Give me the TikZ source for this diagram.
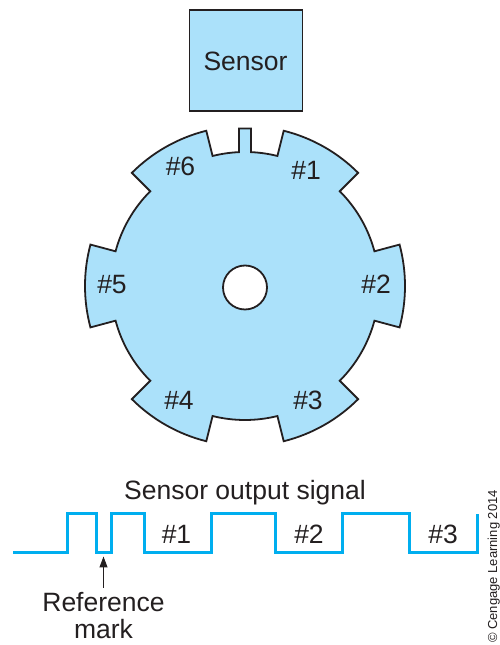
\documentclass[tikz,border=0pt]{standalone}
\usepackage{fontspec}
\setmainfont{Liberation Sans}
\usetikzlibrary{arrows.meta}
\definecolor{partfill}{HTML}{ABE1FA}
\definecolor{inkdark}{HTML}{231F20}
\definecolor{signalblue}{HTML}{00AEEF}
\tikzset{
  part/.style={draw=inkdark,fill=partfill,line width=1.8pt,line join=miter},
  lab/.style={anchor=base,inner sep=0pt,text=inkdark,font=\fontsize{26.5}{26.5}\selectfont},
  signalline/.style={draw=signalblue,line width=3pt,line join=miter},
  pointer/.style={draw=inkdark,line width=1pt,-{Triangle[length=11pt,width=8pt]}},
}
\begin{document}
\begin{tikzpicture}[x=1pt,y=1pt]
\useasboundingbox (0,0) rectangle (499,645);
% sensor
\node[part,minimum width=113pt,minimum height=101pt,inner sep=0pt,anchor=south west] (sensorbox) at (188.5,533) {};
\node[lab] (sensortext) at (245.5,574) {Sensor};
% wheel
\begin{scope}[shift={(245,359)}]
\draw[part]
  (76:160) arc[start angle=76,end angle=45,radius=160]
  -- (45:134) arc[start angle=45,end angle=15,radius=134]
  -- (15:160) arc[start angle=15,end angle=-15,radius=160]
  -- (-15:134) arc[start angle=-15,end angle=-45,radius=134]
  -- (-45:160) arc[start angle=-45,end angle=-76,radius=160]
  -- (-76:134) arc[start angle=-76,end angle=-104,radius=134]
  -- (-104:160) arc[start angle=-104,end angle=-135,radius=160]
  -- (-135:134) arc[start angle=-135,end angle=-165,radius=134]
  -- (-165:160) arc[start angle=-165,end angle=-195,radius=160]
  -- (-195:134) arc[start angle=-195,end angle=-225,radius=134]
  -- (-225:160) arc[start angle=-225,end angle=-256,radius=160]
  -- (104:134) arc[start angle=104,end angle=92.57,radius=134]
  -- (-6,157.5) -- (6,157.5)
  -- (87.43:134) arc[start angle=87.43,end angle=76,radius=134]
  -- cycle;
\end{scope}
\node[circle,draw=inkdark,fill=white,line width=1.8pt,minimum size=44pt,inner sep=0pt] (hole) at (245,357.5) {};
\node[lab] (t6) at (180.5,469.5) {\#6};
\node[lab] (t1) at (306,465.5) {\#1};
\node[lab] (t5) at (112,351) {\#5};
\node[lab] (t2) at (376,351) {\#2};
\node[lab] (t4) at (179,235.5) {\#4};
\node[lab] (t3) at (308,235.5) {\#3};
% signal
\node[lab] (title) at (245,145.5) {Sensor output signal};
\draw[signalline] (13,92.5) -- (67.5,92.5) -- (67.5,131) -- (96.5,131) -- (96.5,92.5)
  -- (111,92.5) -- (111,131) -- (144,131) -- (144,92.5) -- (211.5,92.5) -- (211.5,131)
  -- (275,131) -- (275,92.5) -- (342,92.5) -- (342,131) -- (409,131) -- (409,92.5)
  -- (477,92.5) -- (477,131);
\node[lab] (s1) at (176.5,101.5) {\#1};
\node[lab] (s2) at (309,101.5) {\#2};
\node[lab] (s3) at (443,101.5) {\#3};
% reference mark
\node[lab] (refb) at (103.5,6) {mark};
\node[lab] (refa) at (103.5,33) {Reference};
\coordinate (marktip) at (103.5,88.5);
\draw[pointer] (103.5,57) -- (marktip);
% credit
\node[anchor=base west,rotate=90,inner sep=0pt,text=inkdark,font=\fontsize{13}{13}\selectfont] (credit) at (497,2) {© Cengage Learning 2014};
\end{tikzpicture}
\end{document}
